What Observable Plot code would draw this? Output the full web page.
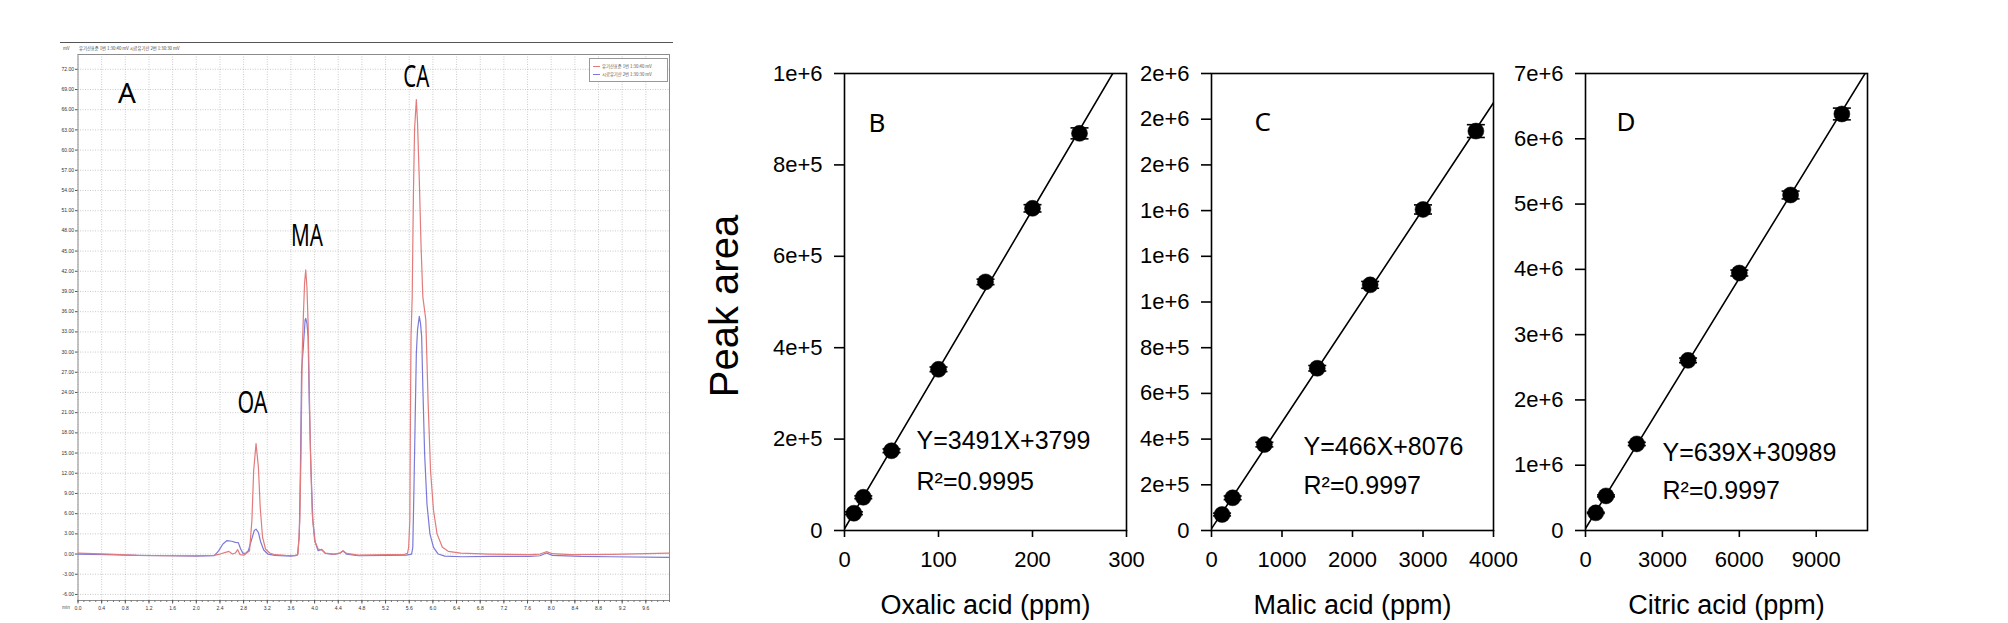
<!DOCTYPE html>
<html>
<head>
<meta charset="utf-8">
<script src="https://cdn.jsdelivr.net/npm/d3@7"></script>
<script src="https://cdn.jsdelivr.net/npm/@observablehq/plot@0.6"></script>
<style>
html,body{margin:0;padding:0;background:#fff;}
#wrap{position:relative;width:2008px;height:623px;overflow:hidden;background:#fff;font-family:"Liberation Sans",Arial,sans-serif;}
.tiny{position:absolute;font-size:4.3px;color:#444;white-space:nowrap;line-height:1;font-family:"Noto Sans CJK KR","Liberation Sans",sans-serif;}
.legend{position:absolute;left:589px;top:58px;width:79px;height:24px;border:1px solid #999;background:#fff;box-sizing:border-box;}
.legrow{position:absolute;left:3px;font-size:4.3px;line-height:1;white-space:nowrap;color:#555;font-family:"Noto Sans CJK KR",sans-serif;}
.legrow span{display:inline-block;width:7px;height:0;border-top:1px solid;vertical-align:middle;margin-right:2px;}
</style>
</head>
<body>
<div id="wrap"></div>
<script>
// ---------------- Panel A: chromatogram data ----------------
const chromXTicks = [0,0.4,0.8,1.2,1.6,2.0,2.4,2.8,3.2,3.6,4.0,4.4,4.8,5.2,5.6,6.0,6.4,6.8,7.2,7.6,8.0,8.4,8.8,9.2,9.6];
const chromXTickLabels = ["0.0","0.4","0.8","1.2","1.6","2.0","2.4","2.8","3.2","3.6","4.0","4.4","4.8","5.2","5.6","6.0","6.4","6.8","7.2","7.6","8.0","8.4","8.8","9.2","9.6"];
const chromYTicks = [-6,-3,0,3,6,9,12,15,18,21,24,27,30,33,36,39,42,45,48,51,54,57,60,63,66,69,72];
const chromYTickLabels = ["-6.00","-3.00","0.00","3.00","6.00","9.00","12.00","15.00","18.00","21.00","24.00","27.00","30.00","33.00","36.00","39.00","42.00","45.00","48.00","51.00","54.00","57.00","60.00","63.00","66.00","69.00","72.00"];
const peakNames = ["OA","MA","CA"];
const peakLabelTime = [2.95, 3.87, 5.72];
const peakLabelSignal = [20.9, 45.8, 69.4];
const legendNames = ["유기산표준 1번 1:30:40 mV","시료유기산 2번 1:30:30 mV"];
const headerText = "유기산표준 1번 1:30:40 mV 시료유기산 2번 1:30:30 mV";

// [time (min), signal]
const traceStandard = [[0,0.15],[0.5,0.0],[1.0,-0.2],[1.5,-0.25],[2.0,-0.25],[2.3,-0.2],[2.40,0.0],[2.55,0.4],[2.61,0.0],[2.66,0.15],[2.70,0.65],[2.74,-0.1],[2.81,-0.15],[2.90,0.5],[2.94,5.0],[2.97,12.4],[3.01,16.4],[3.05,12.9],[3.08,7.0],[3.12,2.5],[3.17,0.75],[3.24,0.15],[3.33,-0.1],[3.50,-0.2],[3.68,-0.25],[3.72,0.0],[3.75,5.0],[3.77,14.9],[3.79,29.8],[3.81,35.3],[3.83,40.2],[3.85,42.2],[3.87,39.7],[3.89,34.3],[3.91,24.8],[3.93,14.9],[3.96,6.0],[4.00,2.0],[4.06,0.75],[4.12,0.6],[4.18,0.15],[4.33,0.0],[4.43,0.15],[4.48,0.5],[4.54,0.1],[4.74,-0.15],[5.23,-0.1],[5.50,-0.1],[5.57,0.1],[5.59,1.0],[5.61,5.0],[5.62,19.9],[5.63,32.3],[5.65,38.2],[5.67,53.1],[5.69,63.1],[5.72,67.5],[5.74,64.1],[5.77,55.6],[5.80,45.7],[5.83,38.2],[5.88,34.8],[5.92,22.3],[5.96,12.4],[6.01,6.5],[6.07,3.0],[6.16,1.0],[6.26,0.4],[6.47,0.15],[6.95,0.0],[7.64,-0.1],[7.81,0.0],[7.92,0.35],[8.02,0.05],[8.33,-0.1],[9.02,-0.05],[9.99,0.15]];
const traceSample = [[0,0],[0.5,-0.1],[1.0,-0.2],[1.5,-0.25],[2.0,-0.3],[2.3,-0.25],[2.33,0],[2.38,0.5],[2.45,1.5],[2.52,2.0],[2.60,1.9],[2.66,1.74],[2.71,1.7],[2.75,0.75],[2.79,0.1],[2.84,0.15],[2.88,0.5],[2.93,2.0],[2.98,3.5],[3.01,3.7],[3.05,3.2],[3.09,1.74],[3.14,0.6],[3.21,0],[3.33,-0.2],[3.60,-0.3],[3.71,-0.15],[3.74,2.5],[3.76,12.4],[3.78,27.3],[3.81,30.8],[3.84,34.8],[3.85,35.0],[3.87,34.3],[3.89,32.3],[3.91,22.3],[3.94,12.4],[3.97,5.0],[4.01,1.74],[4.06,0.5],[4.12,0.7],[4.18,0.1],[4.33,-0.05],[4.43,0.15],[4.48,0.45],[4.54,0],[4.74,-0.25],[5.23,-0.2],[5.55,-0.15],[5.64,0],[5.66,1.0],[5.68,9.9],[5.70,19.9],[5.72,29.8],[5.74,33.3],[5.77,35.3],[5.79,34.3],[5.81,32.3],[5.83,24.8],[5.86,14.9],[5.90,7.4],[5.95,3.0],[6.01,1.0],[6.09,0],[6.20,-0.3],[6.50,-0.4],[7.00,-0.35],[7.64,-0.35],[7.81,-0.25],[7.92,0.15],[8.02,-0.2],[8.50,-0.35],[9.00,-0.4],[9.99,-0.5]];

// ---------------- Panels B–D: calibration data ----------------
const oxalicConc = [10,20,50,100,150,200,250];
const oxalicArea = [37800,72700,174500,352700,544000,705000,869000];
const oxalicErr  = [3000,3000,4000,5000,6000,8000,12000];
const oxalicFit  = {slope:3491, intercept:3799};
const oxalicXTicks = [0,100,200,300];
const oxalicXTickLabels = ["0","100","200","300"];
const oxalicYTicks = [0,200000,400000,600000,800000,1000000];
const oxalicYTickLabels = ["0","2e+5","4e+5","6e+5","8e+5","1e+6"];

const malicConc = [150,300,750,1500,2250,3000,3750];
const malicArea = [70000,143000,376000,710000,1075000,1405000,1748000];
const malicErr  = [6000,8000,10000,12000,15000,20000,28000];
const malicFit  = {slope:466, intercept:8076};
const malicXTicks = [0,1000,2000,3000,4000];
const malicXTickLabels = ["0","1000","2000","3000","4000"];
const malicYTicks = [0,200000,400000,600000,800000,1000000,1200000,1400000,1600000,1800000,2000000];
const malicYTickLabels = ["0","2e+5","4e+5","6e+5","8e+5","1e+6","1e+6","1e+6","2e+6","2e+6","2e+6"];

const citricConc = [400,800,2000,4000,6000,8000,10000];
const citricArea = [270000,530000,1326000,2606000,3944000,5139000,6380000];
const citricErr  = [10000,15000,25000,35000,45000,60000,90000];
const citricFit  = {slope:639, intercept:30989};
const citricXTicks = [0,3000,6000,9000];
const citricXTickLabels = ["0","3000","6000","9000"];
const citricYTicks = [0,1000000,2000000,3000000,4000000,5000000,6000000,7000000];
const citricYTickLabels = ["0","1e+6","2e+6","3e+6","4e+6","5e+6","6e+6","7e+6"];

const panelLetters = ["B","C","D"];
const equations = ["Y=3491X+3799","Y=466X+8076","Y=639X+30989"];
const r2Texts = ["R²=0.9995","R²=0.9997","R²=0.9997"];
const xTitles = ["Oxalic acid (ppm)","Malic acid (ppm)","Citric acid (ppm)"];
const yTitle = "Peak area";

// ---------------- rendering ----------------
const wrap = document.getElementById("wrap");
const SANS = "'Liberation Sans', Arial, sans-serif";
function place(svg, left){
  svg.style.position = "absolute";
  svg.style.left = left + "px";
  svg.style.top = "0px";
  wrap.appendChild(svg);
}

// Panel A
const xMapA = new Map(chromXTicks.map((t,i)=>[t, chromXTickLabels[i]]));
const yMapA = new Map(chromYTicks.map((t,i)=>[t, chromYTickLabels[i]]));
const chromMinor = d3.range(0, 10.001, 0.1);
const svgA = Plot.plot({
  width: 639, height: 623,
  marginLeft: 37.5, marginRight: 10, marginTop: 54, marginBottom: 23,
  x: {domain: [0, 10], label: null},
  y: {domain: [-6.9, 74.2], label: null},
  style: {background: "transparent", overflow: "visible", fontFamily: SANS, fontSize: "5px", color: "#333"},
  marks: [
    Plot.gridX(chromXTicks, {stroke: "#999", strokeOpacity: 0.5, strokeDasharray: "1,1.5"}),
    Plot.gridY(chromYTicks, {stroke: "#999", strokeOpacity: 0.5, strokeDasharray: "1,1.5"}),
    Plot.frame({stroke: "#8c8c8c"}),
    Plot.axisX(chromMinor, {tickSize: 2, tickFormat: () => "", stroke: "#777"}),
    Plot.axisX(chromXTicks, {tickSize: 3.5, tickPadding: 2.5, tickFormat: d => xMapA.get(d), fontSize: 5, stroke: "#555", label: null}),
    Plot.axisY(chromYTicks, {tickSize: 2.5, tickPadding: 1.5, tickFormat: d => yMapA.get(d), fontSize: 5, stroke: "#555", label: null}),
    Plot.line(traceSample, {x: d => d[0], y: d => d[1], stroke: "#7c79d8", strokeWidth: 1.2}),
    Plot.line(traceStandard, {x: d => d[0], y: d => d[1], stroke: "#e27b7b", strokeWidth: 1.2}),
    Plot.text(peakNames, {x: (d,i) => peakLabelTime[i], y: (d,i) => peakLabelSignal[i], lineAnchor: "bottom", fontSize: 30, fontFamily: "'Noto Sans', sans-serif", fill: "black"}),
    Plot.text(["A"], {frameAnchor: "top-left", dx: 40, dy: 29, lineAnchor: "top", textAnchor: "start", fontSize: 28, fontFamily: "'Noto Sans', sans-serif", fill: "black"})
  ]
});
place(svgA, 40);
const peakLen = {OA: 30, MA: 32, CA: 26};
d3.select(svgA).selectAll("text").filter(function(){ return peakLen[this.textContent] !== undefined; })
  .attr("textLength", function(){ return peakLen[this.textContent]; })
  .attr("lengthAdjust", "spacingAndGlyphs");

// header, outer line and legend of panel A
const topLine = document.createElement("div");
topLine.style.cssText = "position:absolute;left:60px;top:42px;width:613px;height:0;border-top:1px solid #555;";
wrap.appendChild(topLine);
const unit = document.createElement("div");
unit.className = "tiny"; unit.style.left = "63px"; unit.style.top = "46px"; unit.textContent = "mV";
wrap.appendChild(unit);
const head = document.createElement("div");
head.className = "tiny"; head.style.left = "79px"; head.style.top = "46px"; head.textContent = headerText;
wrap.appendChild(head);
const minLab = document.createElement("div");
minLab.className = "tiny"; minLab.style.left = "62px"; minLab.style.top = "605px"; minLab.textContent = "min";
wrap.appendChild(minLab);
const leg = document.createElement("div");
leg.className = "legend";
const legColors = ["#e27b7b", "#7c79d8"];
legendNames.forEach((n, i) => {
  const r = document.createElement("div");
  r.className = "legrow";
  r.style.top = (5 + i * 8) + "px";
  r.innerHTML = '<span style="border-color:' + legColors[i] + '"></span>' + n;
  leg.appendChild(r);
});
wrap.appendChild(leg);

// Calibration panels
const capSymbol = {draw(ctx, size){ const w = Math.sqrt(size / Math.PI); ctx.moveTo(-w, 0); ctx.lineTo(w, 0); }};

function calibPanel(c){
  const pts = c.conc.map((x, i) => ({x, a: c.area[i], e: c.err[i]}));
  const fit = c.xDomain.map(x => ({x, a: c.fit.slope * x + c.fit.intercept}));
  const xMap = new Map(c.xTicks.map((t,i)=>[t, c.xTickLabels[i]]));
  const yMap = new Map(c.yTicks.map((t,i)=>[t, c.yTickLabels[i]]));
  const marks = [
    Plot.line(fit, {x: "x", y: "a", stroke: "black", strokeWidth: 1.6, clip: true}),
    Plot.ruleX(pts, {x: "x", y1: d => d.a - d.e, y2: d => d.a + d.e, stroke: "black", strokeWidth: 1.6}),
    Plot.dot(pts, {x: "x", y: "a", r: 8, fill: "black", stroke: "black", strokeWidth: 0.5}),
    Plot.dot(pts, {x: "x", y: d => d.a + d.e, symbol: capSymbol, r: 9, stroke: "black", fill: "none", strokeWidth: 1.6}),
    Plot.dot(pts, {x: "x", y: d => d.a - d.e, symbol: capSymbol, r: 9, stroke: "black", fill: "none", strokeWidth: 1.6}),
    Plot.frame({stroke: "black", strokeWidth: 1.6}),
    Plot.axisY(c.yTicks, {tickSize: 10, tickPadding: 12, tickFormat: d => yMap.get(d), strokeWidth: 1.6, fontSize: 22, label: null}),
    Plot.axisX(c.xTicks, {tickSize: 7, tickPadding: 14, tickFormat: d => xMap.get(d), strokeWidth: 1.6, fontSize: 22, label: null}),
    Plot.text([c.letter], {frameAnchor: "top-left", dx: c.letterDx, dy: c.letterDy, lineAnchor: "top", textAnchor: "start", fontSize: 26, fontFamily: "'Noto Sans', sans-serif"}),
    Plot.text([c.eq], {frameAnchor: "top-left", dx: c.eqDx, dy: c.eqDy, lineAnchor: "bottom", textAnchor: "start", fontSize: 25}),
    Plot.text([c.r2], {frameAnchor: "top-left", dx: c.eqDx, dy: c.r2Dy, lineAnchor: "bottom", textAnchor: "start", fontSize: 25}),
    Plot.text([c.xTitle], {frameAnchor: "bottom", dy: 83, lineAnchor: "bottom", fontSize: 27})
  ];
  if (c.yTitle) marks.push(Plot.text([c.yTitle], {frameAnchor: "left", dx: -119, dy: 4, rotate: -90, lineAnchor: "middle", textAnchor: "middle", fontSize: 40}));
  return Plot.plot({
    width: c.width, height: 623,
    marginLeft: c.marginLeft, marginRight: 20, marginTop: 73, marginBottom: 93,
    x: {domain: c.xDomain, label: null},
    y: {domain: c.yDomain, label: null},
    style: {background: "transparent", overflow: "visible", fontFamily: SANS, fontSize: "22px", color: "black"},
    marks
  });
}

place(calibPanel({conc: oxalicConc, area: oxalicArea, err: oxalicErr, fit: oxalicFit,
  xDomain: [0, 300], yDomain: [0, 1000000], xTicks: oxalicXTicks, xTickLabels: oxalicXTickLabels,
  yTicks: oxalicYTicks, yTickLabels: oxalicYTickLabels, letter: panelLetters[0], letterDx: 24, letterDy: 40,
  eq: equations[0], r2: r2Texts[0], eqDx: 72, eqDy: 375, r2Dy: 416, xTitle: xTitles[0], yTitle: yTitle,
  width: 446, marginLeft: 144}), 700);

place(calibPanel({conc: malicConc, area: malicArea, err: malicErr, fit: malicFit,
  xDomain: [0, 4000], yDomain: [0, 2000000], xTicks: malicXTicks, xTickLabels: malicXTickLabels,
  yTicks: malicYTicks, yTickLabels: malicYTickLabels, letter: panelLetters[1], letterDx: 43, letterDy: 39,
  eq: equations[1], r2: r2Texts[1], eqDx: 92, eqDy: 381, r2Dy: 420, xTitle: xTitles[1],
  width: 383, marginLeft: 81}), 1130);

place(calibPanel({conc: citricConc, area: citricArea, err: citricErr, fit: citricFit,
  xDomain: [0, 11000], yDomain: [0, 7000000], xTicks: citricXTicks, xTickLabels: citricXTickLabels,
  yTicks: citricYTicks, yTickLabels: citricYTickLabels, letter: panelLetters[2], letterDx: 31, letterDy: 39,
  eq: equations[2], r2: r2Texts[2], eqDx: 77, eqDy: 387, r2Dy: 425, xTitle: xTitles[2],
  width: 384, marginLeft: 82}), 1503);
</script>
</body>
</html>
